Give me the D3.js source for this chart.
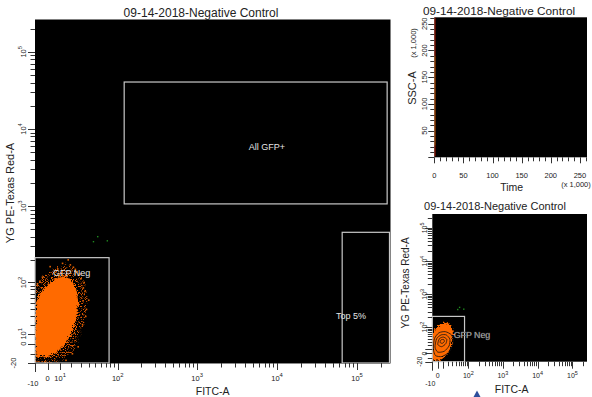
<!DOCTYPE html>
<html>
<head>
<meta charset="utf-8">
<script src="https://cdn.jsdelivr.net/npm/d3@7"></script>
<style>
  body { margin: 0; background: #fff; }
  text { font-family: "Liberation Sans", Arial, sans-serif; }
</style>
</head>
<body>
<svg id="chart" width="592" height="397"></svg>
<script>
// ---- data ----
const plotTitle = "09-14-2018-Negative Control";
const fluorMax = 262144;

// gates (FITC-A range, PE-Texas Red-A range)
const gateNames = ["GFP Neg", "All GFP+", "Top 5%"];
const gateFitc = [[-10, 77], [121, 238000], [65200, 254600]];
const gatePe = [[-20, 214], [1070, 40600], [-20, 458]];

// GFP negative population: sparse fringe, outer and core (dense) outlines
const cloudFringe = [[-10, -19], [-10, 72], [-6, 104], [0, 130], [7, 156], [16, 172], [26, 145],
  [35, 104], [39, 62], [36, 26], [29, 5], [21, -9], [10, -18], [0, -20]];
const cloudOuter = [[-10, -16], [-10, 56], [-5, 82], [0, 106], [6, 128], [14, 140], [22, 124],
  [29, 92], [32, 58], [29, 29], [25, 12], [18, -1], [10, -11], [2, -16], [-6, -17]];
const cloudCore = [[-9, -10], [-9, 46], [-5, 72], [1, 94], [7, 112], [14, 120], [20, 107],
  [25, 80], [27, 51], [24, 25], [19, 8], [12, -3], [4, -11], [-5, -13]];
const cloudStray = [[17, 200], [2, 163], [35, 75], [40, 56], [12, 180], [22, 160], [-4, 118],
  [30, 112], [33, 84], [32, 20], [27, -3], [15, -17], [-2, -19], [37, 40], [8, 152],
  [26, 140], [-8, 96], [19, 172], [34, 100], [24, 150], [-6, 104], [29, 130], [36, 30], [21, -10]];
// density contours shown on the small plot
const contours = [
  [[-8, 10], [-6, 40], [2, 65], [14, 71], [28, 55], [33, 30], [24, 5], [8, -7], [-4, -5]],
  [[-5, 15], [-2, 40], [6, 55], [16, 55], [24, 38], [22, 18], [12, 5], [0, 3]],
  [[0, 22], [3, 40], [10, 46], [17, 38], [15, 24], [7, 16]],
  [[4, 28], [6, 36], [11, 37], [12, 30], [8, 25]]
];
// a few GFP+ events
const greenFitc = [47, 54, 73];
const greenPe = [346, 402, 355];

// time plot: events all sit in the first ~2k of Time
const stripTime = [0.2, 1.9];           // x 1,000
const stripSsc = [2, 22, 190, 262];     // x 1,000 band edges

// axis ticks
const fitcTicks = [-10, 0, 10, 100, 1000, 10000, 100000];
const fitcLabels = [["-10", ""], ["0", ""], ["10", "1"], ["10", "2"], ["10", "3"], ["10", "4"], ["10", "5"]];
const peTicks = [-20, 0, 10, 100, 1000, 10000, 100000];
const peLabels = [["-20", ""], ["0", ""], ["10", "1"], ["10", "2"], ["10", "3"], ["10", "4"], ["10", "5"]];
const linTicks = [0, 50, 100, 150, 200, 250];

// ---- scales ----
function biex(c, domain, range) {
  const lin = d3.scaleLinear().domain(domain.map(v => Math.asinh(v / c))).range(range);
  return v => lin(Math.asinh(v / c));
}
const mainX = biex(27, [-10, fluorMax], [35, 390.5]);
const mainY = biex(33, [-20, fluorMax], [363, 19.5]);
const brX = biex(27, [-10, fluorMax], [432.3, 587]);
const brY = biex(33, [-20, fluorMax], [361.7, 214]);
const trX = d3.scaleLinear().domain([0, 262.144]).range([434.3, 587]);
const trY = d3.scaleLinear().domain([0, 262.144]).range([157.3, 17.3]);

const minors = d3.range(1, 6).flatMap(e => d3.range(2, 10).map(m => m * 10 ** e)).filter(v => v < fluorMax);

const svg = d3.select("#chart");
const defs = svg.append("defs");
const rough = defs.append("filter").attr("id", "rough").attr("x", "-20%").attr("y", "-20%")
  .attr("width", "140%").attr("height", "140%");
rough.append("feTurbulence").attr("type", "fractalNoise").attr("baseFrequency", 0.9)
  .attr("numOctaves", 2).attr("seed", 3).attr("result", "noise");
rough.append("feDisplacementMap").attr("in", "SourceGraphic").attr("in2", "noise")
  .attr("scale", 6).attr("xChannelSelector", "R").attr("yChannelSelector", "G");

// speckled fringe: keep the shape only where the noise is high
const speck = defs.append("filter").attr("id", "speck").attr("x", "-20%").attr("y", "-20%")
  .attr("width", "140%").attr("height", "140%");
speck.append("feTurbulence").attr("type", "fractalNoise").attr("baseFrequency", 1.1)
  .attr("numOctaves", 1).attr("seed", 7).attr("result", "noise");
speck.append("feColorMatrix").attr("in", "noise").attr("type", "matrix")
  .attr("values", "0 0 0 0 0  0 0 0 0 0  0 0 0 0 0  9 0 0 0 -4.7").attr("result", "mask");
speck.append("feDisplacementMap").attr("in", "SourceGraphic").attr("in2", "noise")
  .attr("scale", 7).attr("xChannelSelector", "R").attr("yChannelSelector", "G").attr("result", "moved");
speck.append("feComposite").attr("in", "moved").attr("in2", "mask").attr("operator", "in");

function plotFrame(id, x0, x1, y0, y1) {
  defs.append("clipPath").attr("id", id).append("rect")
    .attr("x", x0).attr("y", y1).attr("width", x1 - x0).attr("height", y0 - y1);
  svg.append("rect").attr("x", x0).attr("y", y1).attr("width", x1 - x0).attr("height", y0 - y1)
    .attr("fill", "#000");
  return svg.append("g").attr("clip-path", `url(#${id})`);
}

function labelText(t, d, fs) {
  t.append("tspan").text(d[0]);
  if (d[1]) t.append("tspan").attr("dy", -fs * 0.5).attr("font-size", fs * 0.78).text(d[1]);
}

function xAxisBio(sx, y0, ticks, labels, fs, base, shiftFirst) {
  const g = svg.append("g").attr("stroke", "#333").attr("stroke-width", 1);
  g.selectAll("line.minor").data(minors).join("line")
    .attr("x1", d => Math.round(sx(d)) + 0.5).attr("x2", d => Math.round(sx(d)) + 0.5)
    .attr("y1", y0).attr("y2", y0 + 4.5);
  g.selectAll("line.major").data(ticks).join("line")
    .attr("x1", d => Math.round(sx(d)) + 0.5).attr("x2", d => Math.round(sx(d)) + 0.5)
    .attr("y1", y0).attr("y2", (d, i) => y0 + (i === 0 ? 9 : 7));
  svg.append("g").selectAll("text").data(labels).join("text")
    .attr("x", (d, i) => sx(ticks[i]) - (i === 0 ? 2 : 0))
    .attr("y", (d, i) => base + (i === 0 ? shiftFirst : 0))
    .attr("text-anchor", "middle").attr("font-size", fs).attr("fill", "#222")
    .each(function (d) { if (d) labelText(d3.select(this), d, fs); });
}

function yAxisBio(sy, x0, ticks, labels, fs, base, shiftFirst) {
  const g = svg.append("g").attr("stroke", "#333").attr("stroke-width", 1);
  g.selectAll("line.minor").data(minors.concat([-10])).join("line")
    .attr("y1", d => Math.round(sy(d)) + 0.5).attr("y2", d => Math.round(sy(d)) + 0.5)
    .attr("x1", x0).attr("x2", x0 - 4.5);
  g.selectAll("line.major").data(ticks).join("line")
    .attr("y1", d => Math.round(sy(d)) + 0.5).attr("y2", d => Math.round(sy(d)) + 0.5)
    .attr("x1", x0).attr("x2", x0 - 7);
  svg.append("g").selectAll("text").data(labels).join("text")
    .attr("transform", (d, i) => `translate(${base - (i === 0 ? shiftFirst : 0)},${sy(ticks[i])}) rotate(-90)`)
    .attr("text-anchor", "middle").attr("font-size", fs).attr("fill", "#222")
    .each(function (d) { if (d) labelText(d3.select(this), d, fs); });
}

function drawGate(sx, sy, i, lineW) {
  svg.append("rect")
    .attr("x", sx(gateFitc[i][0])).attr("y", sy(gatePe[i][1]))
    .attr("width", sx(gateFitc[i][1]) - sx(gateFitc[i][0]))
    .attr("height", sy(gatePe[i][0]) - sy(gatePe[i][1]))
    .attr("fill", "none").attr("stroke", "#c8c8c8").attr("stroke-width", lineW);
}

const poly = (sx, sy) => d3.line().x(d => sx(d[0])).y(d => sy(d[1])).curve(d3.curveCardinalClosed.tension(0.3));

// ---- main dot plot ----
const gMain = plotFrame("clipMain", 35, 390.5, 363, 19.5);
gMain.append("path").attr("d", poly(mainX, mainY)(cloudFringe)).attr("fill", "#d95400")
  .attr("filter", "url(#speck)");
gMain.append("path").attr("d", poly(mainX, mainY)(cloudOuter)).attr("fill", "#ee6000")
  .attr("filter", "url(#speck)");
gMain.append("path").attr("d", poly(mainX, mainY)(cloudCore)).attr("fill", "#ff6a00")
  .attr("filter", "url(#rough)");
gMain.selectAll("rect.stray").data(cloudStray).join("rect")
  .attr("x", d => mainX(d[0]) - 0.8).attr("y", d => mainY(d[1]) - 0.8)
  .attr("width", 1.6).attr("height", 1.6).attr("fill", "#e06000");
gMain.selectAll("rect.green").data(greenFitc).join("rect")
  .attr("x", d => mainX(d) - 0.7).attr("y", (d, i) => mainY(greenPe[i]) - 0.7)
  .attr("width", 1.4).attr("height", 1.4).attr("fill", "#1f8a1f");
gateNames.forEach((n, i) => drawGate(mainX, mainY, i, 1.2));
const mainGateText = [[71.7, 276], [267, 149.5], [351, 318.5]];
svg.selectAll("text.gate").data(gateNames).join("text")
  .attr("x", (d, i) => mainGateText[i][0]).attr("y", (d, i) => mainGateText[i][1])
  .attr("text-anchor", "middle").attr("font-size", 9).attr("fill", "#e6e6e6").text(d => d);

svg.append("line").attr("x1", 35).attr("x2", 390.5).attr("y1", 363.5).attr("y2", 363.5)
  .attr("stroke", "#888");
xAxisBio(mainX, 363, fitcTicks, fitcLabels, 7.5, 381, 5);
yAxisBio(mainY, 35, peTicks, peLabels, 7.5, 25.5, 10);

svg.append("text").attr("x", 201).attr("y", 17).attr("text-anchor", "middle")
  .attr("font-size", 12).attr("fill", "#222").text(plotTitle);
svg.append("text").attr("x", 212.7).attr("y", 395).attr("text-anchor", "middle")
  .attr("font-size", 10.5).attr("fill", "#222").text("FITC-A");
svg.append("text").attr("transform", "translate(13.5,193) rotate(-90)").attr("text-anchor", "middle")
  .attr("font-size", 11).attr("fill", "#222").text("YG PE-Texas Red-A");

// ---- time plot (top right) ----
const gTime = plotFrame("clipTime", 434.3, 587, 157.3, 17.3);
const bandColor = d3.scaleOrdinal().domain([0, 1, 2]).range(["#d81e00", "#ff6a00", "#d81e00"]);
gTime.selectAll("rect.band").data(d3.range(stripSsc.length - 1)).join("rect")
  .attr("x", trX(stripTime[0])).attr("width", trX(stripTime[1]) - trX(stripTime[0]))
  .attr("y", i => trY(stripSsc[i + 1])).attr("height", i => trY(stripSsc[i]) - trY(stripSsc[i + 1]))
  .attr("fill", i => bandColor(i));

const linMinor = d3.range(0, 261, 10);
const gt = svg.append("g").attr("stroke", "#333");
gt.selectAll("line.xm").data(linMinor).join("line")
  .attr("x1", d => Math.round(trX(d)) + 0.5).attr("x2", d => Math.round(trX(d)) + 0.5)
  .attr("y1", 157.3).attr("y2", d => 157.3 + (d % 50 === 0 ? 6 : 4));
gt.selectAll("line.ym").data(linMinor).join("line")
  .attr("y1", d => Math.round(trY(d)) + 0.5).attr("y2", d => Math.round(trY(d)) + 0.5)
  .attr("x1", 434.3).attr("x2", d => 434.3 - (d % 50 === 0 ? 6 : 4));
svg.append("g").selectAll("text").data(linTicks).join("text")
  .attr("x", d => trX(d)).attr("y", 178).attr("text-anchor", "middle")
  .attr("font-size", 7.5).attr("fill", "#222").text(d => d);
svg.append("g").selectAll("text").data(linTicks.slice(1)).join("text")
  .attr("transform", d => `translate(426.5,${trY(d)}) rotate(-90)`).attr("text-anchor", "middle")
  .attr("font-size", 7.5).attr("fill", "#222").text(d => d);
svg.append("text").attr("x", 499).attr("y", 15).attr("text-anchor", "middle")
  .attr("font-size", 11.8).attr("fill", "#222").text(plotTitle);
svg.append("text").attr("x", 511.7).attr("y", 191).attr("text-anchor", "middle")
  .attr("font-size", 10.5).attr("fill", "#222").text("Time");
svg.append("text").attr("x", 576).attr("y", 187).attr("text-anchor", "middle")
  .attr("font-size", 7.5).attr("fill", "#222").text("(x 1,000)");
svg.append("text").attr("transform", "translate(416,88) rotate(-90)").attr("text-anchor", "middle")
  .attr("font-size", 11).attr("fill", "#222").text("SSC-A");
svg.append("text").attr("transform", "translate(416,43) rotate(-90)").attr("text-anchor", "middle")
  .attr("font-size", 7.5).attr("fill", "#222").text("(x 1,000)");

// ---- contour plot (bottom right) ----
const gBr = plotFrame("clipBr", 432.3, 587, 361.7, 214);
gBr.append("path").attr("d", poly(brX, brY)(cloudOuter)).attr("fill", "#ff6a00")
  .attr("filter", "url(#rough)");
gBr.selectAll("path.contour").data(contours).join("path")
  .attr("d", d => poly(brX, brY)(d)).attr("fill", "none").attr("stroke", "#111").attr("stroke-width", 0.8);
gBr.selectAll("rect.green").data(greenFitc).join("rect")
  .attr("x", d => brX(d) - 0.7).attr("y", (d, i) => brY(greenPe[i]) - 0.7)
  .attr("width", 1.4).attr("height", 1.4).attr("fill", "#1f8a1f");
drawGate(brX, brY, 0, 1.2);
svg.append("text").attr("x", 472).attr("y", 338).attr("text-anchor", "middle")
  .attr("font-size", 8.8).attr("fill", "#e6e6e6").attr("stroke", "#555").attr("stroke-width", 0.3)
  .text(gateNames[0]);

const brXLabels = fitcLabels.map((d, i) => i === 2 ? null : d);
const brYLabels = peLabels.map((d, i) => i === 2 ? null : d);
xAxisBio(brX, 361.7, fitcTicks, brXLabels, 7, 378, 8);
yAxisBio(brY, 432.3, peTicks, brYLabels, 7, 427, 5);
svg.append("text").attr("x", 495).attr("y", 210).attr("text-anchor", "middle")
  .attr("font-size", 11).attr("fill", "#222").text(plotTitle);
svg.append("text").attr("x", 511.7).attr("y", 393).attr("text-anchor", "middle")
  .attr("font-size", 10.5).attr("fill", "#222").text("FITC-A");
svg.append("text").attr("transform", "translate(408.5,283) rotate(-90)").attr("text-anchor", "middle")
  .attr("font-size", 10).attr("fill", "#222").text("YG PE-Texas Red-A");

// cursor marker under the small plot
svg.append("path").attr("d", "M473.5,397L477,390.5L480.5,397Z").attr("fill", "#2d4f9c");
</script>
</body>
</html>
